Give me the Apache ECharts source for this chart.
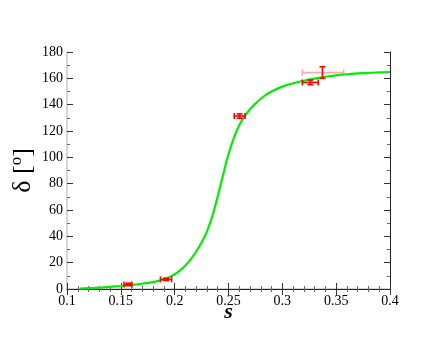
<!DOCTYPE html>
<html>
<head>
<meta charset="utf-8">
<script src="https://cdn.jsdelivr.net/npm/echarts@6/dist/echarts.min.js"></script>
<style>
  html, body { margin: 0; padding: 0; background: #fff; }
  #chart { width: 440px; height: 340px; }
</style>
</head>
<body>
<div id="chart"></div>
<script>
// fitted curve
const curveS = [0.112, 0.12, 0.13, 0.14, 0.15, 0.16, 0.17, 0.175, 0.18, 0.185, 0.19, 0.195, 0.2, 0.205, 0.21, 0.215, 0.22, 0.225, 0.23, 0.235, 0.24, 0.245, 0.25, 0.255, 0.26, 0.265, 0.27, 0.275, 0.28, 0.285, 0.29, 0.3, 0.31, 0.32, 0.33, 0.34, 0.35, 0.36, 0.37, 0.38, 0.39, 0.4]
const curveDelta = [0.3, 0.6, 1.0, 1.6, 2.3, 3.1, 4.0, 4.6, 5.2, 6.2, 7.4, 9.0, 11.2, 14.1, 17.9, 22.7, 28.5, 35.3, 43.8, 55.3, 70.3, 86.8, 102.3, 114.8, 124.3, 131.3, 136.5, 140.8, 144.5, 147.6, 150, 153.7, 156.3, 158.2, 159.8, 161.2, 162.3, 163.1, 163.7, 164.2, 164.5, 164.8]

// measured points with error bars
const errS = [0.157, 0.192, 0.2603, 0.326, 0.3373]
const errDelta = [3.5, 7.3, 131.4, 156.9, 164.3]
const errSLow = [0.1529, 0.1868, 0.2553, 0.3186, 0.3186]
const errSHigh = [0.1603, 0.1972, 0.2654, 0.3334, 0.357]
const errDLow = [2.6, 6.4, 129.7, 155.2, 160]
const errDHigh = [4.4, 8.2, 133, 158.7, 168.8]
const fadedPoint = 4

const xTicks = { min: 0.1, max: 0.4, interval: 0.05 }
const yTicks = { min: 0, max: 180, interval: 20 }

const chart = echarts.init(document.getElementById('chart'))
const font = 'Liberation Serif, Times New Roman, serif'

const errData = errS.map((s, i) => [s, errDelta[i], errSLow[i], errSHigh[i], errDLow[i], errDHigh[i]])

const hBar = (color) => (params, api) => {
  const lo = api.coord([api.value(2), api.value(1)])
  const hi = api.coord([api.value(3), api.value(1)])
  const cap = 3
  const style = { stroke: color, lineWidth: 1.6 }
  return {
    type: 'group',
    children: [
      { type: 'line', shape: { x1: lo[0], y1: lo[1], x2: hi[0], y2: hi[1] }, style },
      { type: 'line', shape: { x1: lo[0], y1: lo[1] - cap, x2: lo[0], y2: lo[1] + cap }, style },
      { type: 'line', shape: { x1: hi[0], y1: hi[1] - cap, x2: hi[0], y2: hi[1] + cap }, style }
    ]
  }
}

const vBar = (params, api) => {
  const lo = api.coord([api.value(0), api.value(4)])
  const hi = api.coord([api.value(0), api.value(5)])
  const cap = 3
  const style = { stroke: '#ff0000', lineWidth: 1.6 }
  return {
    type: 'group',
    children: [
      { type: 'line', shape: { x1: lo[0], y1: lo[1], x2: hi[0], y2: hi[1] }, style },
      { type: 'line', shape: { x1: lo[0] - cap, y1: lo[1], x2: lo[0] + cap, y2: lo[1] }, style },
      { type: 'line', shape: { x1: hi[0] - cap, y1: hi[1], x2: hi[0] + cap, y2: hi[1] }, style }
    ]
  }
}

const baseAxis = {
  type: 'value',
  axisTick: { show: true, inside: true, length: 6, lineStyle: { color: '#333' } },
  minorTick: { show: true, length: 3, lineStyle: { color: '#666' } },
  splitLine: { show: false },
  minorSplitLine: { show: false }
}

const option = {
  animation: false,
  backgroundColor: '#fff',
  grid: { left: 52, right: 50, top: 52, bottom: 51 },
  xAxis: [
    {
      ...baseAxis,
      ...xTicks,
      position: 'bottom',
      minorTick: { ...baseAxis.minorTick, splitNumber: 5 },
      axisLine: { lineStyle: { color: '#c8c8c8', width: 1.5 } },
      axisLabel: { color: '#000', fontFamily: font, fontSize: 14, margin: 5 },
      name: 's',
      nameLocation: 'middle',
      nameGap: 12,
      nameMoveOverlap: false,
      nameTextStyle: { color: '#000', fontFamily: font, fontSize: 22, fontWeight: 'bold', fontStyle: 'italic' }
    },
    {
      ...baseAxis,
      ...xTicks,
      position: 'top',
      minorTick: { ...baseAxis.minorTick, splitNumber: 5 },
      axisLine: { lineStyle: { color: '#222', width: 1 } },
      axisLabel: { show: false }
    }
  ],
  yAxis: [
    {
      ...baseAxis,
      ...yTicks,
      position: 'left',
      minorTick: { ...baseAxis.minorTick, splitNumber: 2 },
      axisLine: { lineStyle: { color: '#c8c8c8', width: 1.5 } },
      axisLabel: { color: '#000', fontFamily: font, fontSize: 14, margin: 4 },
      name: '{d|δ [}{o|o}{d|]}',
      nameLocation: 'middle',
      nameGap: 29,
      nameMoveOverlap: false,
      nameRotate: 90,
      nameTextStyle: {
        rich: {
          d: { color: '#000', fontFamily: font, fontSize: 26, lineHeight: 30 },
          o: { color: '#000', fontFamily: font, fontSize: 17, lineHeight: 17, verticalAlign: 'top' }
        }
      }
    },
    {
      ...baseAxis,
      ...yTicks,
      position: 'right',
      minorTick: { ...baseAxis.minorTick, splitNumber: 2 },
      axisLine: { lineStyle: { color: '#222', width: 1 } },
      axisLabel: { show: false }
    }
  ],
  series: [
    {
      type: 'line',
      data: curveS.map((s, i) => [s, curveDelta[i]]),
      smooth: 0.3,
      showSymbol: false,
      lineStyle: { color: '#00ee00', width: 2.2 },
      z: 2
    },
    {
      type: 'custom',
      data: errData.filter((d, i) => i !== fadedPoint),
      renderItem: hBar('#ff0000'),
      z: 3
    },
    {
      type: 'custom',
      data: errData.filter((d, i) => i === fadedPoint),
      renderItem: hBar('#ffaaaa'),
      z: 1
    },
    {
      type: 'custom',
      data: errData,
      renderItem: vBar,
      z: 4
    }
  ]
}

chart.setOption(option)
</script>
</body>
</html>
